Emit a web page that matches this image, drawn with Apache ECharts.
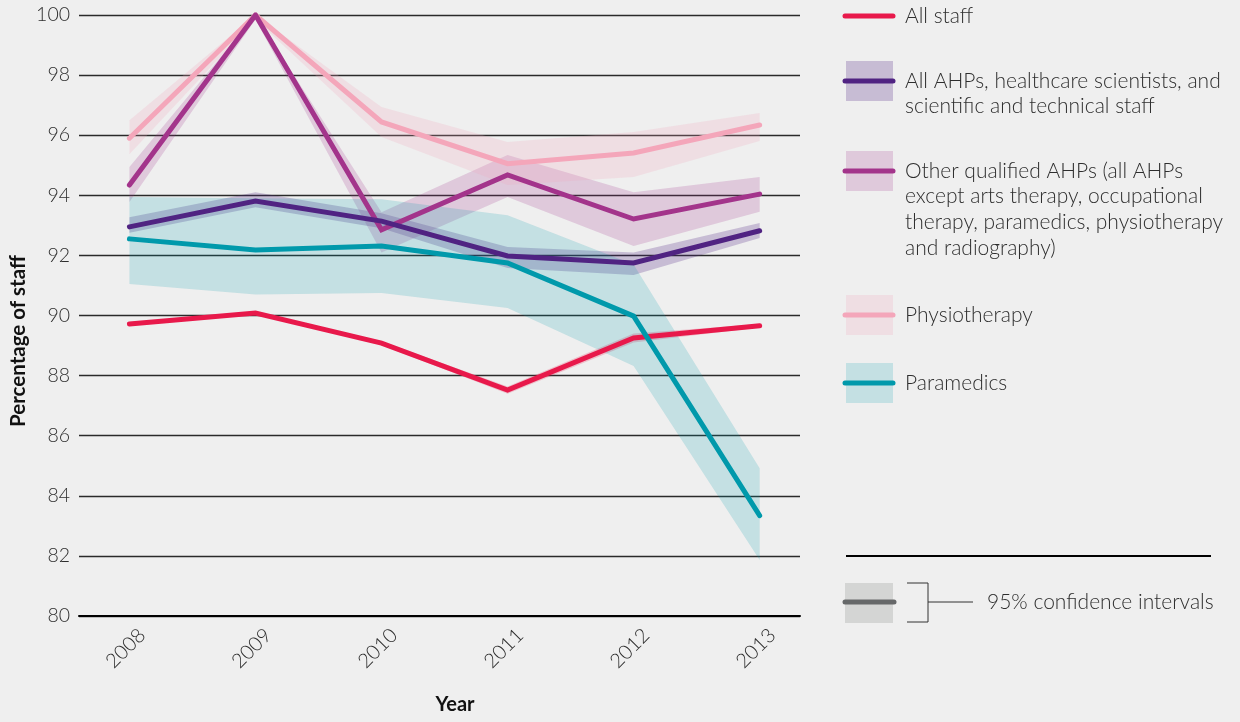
<!DOCTYPE html>
<html><head><meta charset="utf-8">
<script src="https://cdn.jsdelivr.net/npm/echarts@6/dist/echarts.min.js"></script>
<style>html,body{margin:0;padding:0;background:#efefef;}#c{width:1240px;height:722px;}</style>
</head><body><div id="c"></div>
<script>
const years = [2008, 2009, 2010, 2011, 2012, 2013];

const allStaff   = [89.72, 90.08, 89.08, 87.52, 89.25, 89.66];
const allStaffLo = [89.67, 90.03, 89.02, 87.40, 89.10, 89.60];
const allStaffHi = [89.77, 90.13, 89.14, 87.64, 89.40, 89.72];

const allAHPs   = [92.95, 93.81, 93.14, 91.98, 91.75, 92.82];
const allAHPsLo = [92.75, 93.60, 92.90, 91.58, 91.35, 92.58];
const allAHPsHi = [93.27, 94.10, 93.40, 92.28, 92.10, 93.08];

const otherAHPs   = [94.34, 100.0, 92.85, 94.68, 93.21, 94.04];
const otherAHPsLo = [93.78, 99.85, 92.10, 93.94, 92.31, 93.45];
const otherAHPsHi = [94.94, 100.0, 93.44, 95.34, 94.10, 94.61];

const physio   = [95.90, 100.0, 96.44, 95.05, 95.41, 96.34];
const physioLo = [95.37, 99.85, 95.94, 94.34, 94.61, 95.81];
const physioHi = [96.50, 100.0, 96.94, 95.77, 96.11, 96.74];

const paramedics   = [92.55, 92.18, 92.31, 91.75, 89.98, 83.34];
const paramedicsLo = [91.05, 90.70, 90.75, 90.25, 88.32, 81.86];
const paramedicsHi = [93.94, 93.90, 93.87, 93.34, 91.70, 84.92];

const seriesDefs = [
  {name:'All staff', v:allStaff, lo:allStaffLo, hi:allStaffHi, color:'#e8194b', band:'rgba(232,25,75,0.22)'},
  {name:'All AHPs, healthcare scientists, and scientific and technical staff', v:allAHPs, lo:allAHPsLo, hi:allAHPsHi, color:'#502382', band:'rgba(80,35,130,0.25)'},
  {name:'Other qualified AHPs', v:otherAHPs, lo:otherAHPsLo, hi:otherAHPsHi, color:'#a3348b', band:'rgba(160,52,138,0.2)'},
  {name:'Physiotherapy', v:physio, lo:physioLo, hi:physioHi, color:'#f4a6ba', band:'rgba(243,165,185,0.22)'},
  {name:'Paramedics', v:paramedics, lo:paramedicsLo, hi:paramedicsHi, color:'#0099ab', band:'rgba(0,153,170,0.18)'}
];

const FONT = 'Lato';
const TXT = '#2e2e2e';

function bandSeries(d) {
  return {
    type:'custom', name:d.name+' CI', silent:true, z:1,
    data: years.map((y,i)=>[y, d.lo[i], d.hi[i]]),
    encode:{x:0, y:[1,2]},
    renderItem:function(params, api){
      if (params.dataIndex !== 0) return null;
      const top = years.map((y,i)=>api.coord([y, d.hi[i]]));
      const bot = years.map((y,i)=>api.coord([y, d.lo[i]])).reverse();
      return {type:'polygon', shape:{points: top.concat(bot)}, style:{fill:d.band}};
    }
  };
}
function lineSeries(d, z) {
  return {
    type:'line', name:d.name, z:z, silent:true, symbol:'none',
    data: years.map((y,i)=>[y, d.v[i]]),
    lineStyle:{color:d.color, width:5, cap:'round', join:'miter'}
  };
}

const series = [];
seriesDefs.forEach(d=>series.push(bandSeries(d)));
[0,3,2,1,4].forEach((k,i)=>series.push(lineSeries(seriesDefs[k], 3+i)));

const lx0 = 843, lx1 = 895, tx = 905;
const LFONT = '300 21px ' + FONT;
const legendItems = [
  {d:seriesDefs[0], y:16, box:false, lines:['All staff']},
  {d:seriesDefs[1], y:81, box:true, lines:['All AHPs, healthcare scientists, and','scientific and technical staff']},
  {d:seriesDefs[2], y:171, box:true, lines:['Other qualified AHPs (all AHPs','except arts therapy, occupational','therapy, paramedics, physiotherapy','and radiography)']},
  {d:seriesDefs[3], y:315, box:true, lines:['Physiotherapy']},
  {d:seriesDefs[4], y:383, box:true, lines:['Paramedics']}
];
const graphic = [];
legendItems.forEach(it=>{
  if (it.box) graphic.push({type:'rect', shape:{x:846, y:it.y-20, width:47, height:40}, style:{fill:it.d.band}});
  graphic.push({type:'line', shape:{x1:lx0+2, y1:it.y, x2:lx1-2, y2:it.y}, style:{stroke:it.d.color, lineWidth:5, lineCap:'round'}});
  it.lines.forEach((t,j)=>graphic.push({type:'text', x:tx, y:it.y+j*25.7, style:{text:t, fill:TXT, font:LFONT, textVerticalAlign:'middle'}}));
});
graphic.push({type:'line', shape:{x1:846, y1:556, x2:1211, y2:556}, style:{stroke:'#000', lineWidth:2}});
graphic.push({type:'rect', shape:{x:845, y:583, width:48, height:40}, style:{fill:'#d4d5d4'}});
graphic.push({type:'line', shape:{x1:845, y1:602, x2:894, y2:602}, style:{stroke:'#666869', lineWidth:5, lineCap:'round'}});
graphic.push({type:'polyline', shape:{points:[[907,583],[928,583],[928,622],[907,622]]}, style:{stroke:'#333', lineWidth:1, fill:null}});
graphic.push({type:'line', shape:{x1:928, y1:602, x2:973, y2:602}, style:{stroke:'#333', lineWidth:1}});
graphic.push({type:'text', x:987, y:602, style:{text:'95% confidence intervals', fill:TXT, font:LFONT, textVerticalAlign:'middle'}});
graphic.push({type:'text', x:18, y:341, rotation:Math.PI/2, style:{text:'Percentage of staff', fill:'#111', font:'bold 20.5px '+FONT, textAlign:'center', textVerticalAlign:'middle'}});
graphic.push({type:'text', x:455, y:705, style:{text:'Year', fill:'#111', font:'bold 20px '+FONT, textAlign:'center', textVerticalAlign:'middle'}});

const chart = echarts.init(document.getElementById('c'));
chart.setOption({
  backgroundColor:'#efefef',
  animation:false,
  grid:{left:79, right:440, top:15, bottom:106},
  xAxis:{
    type:'value', min:2007.6, max:2013.32,
    axisLine:{show:true, lineStyle:{color:'#000', width:2}},
    axisTick:{show:false},
    splitLine:{show:false},
    axisLabel:{
      customValues: years.map(y=>y+0.1),
      formatter: v=>String(Math.round(v)),
      rotate:45, margin:16, color:TXT, fontFamily:FONT, fontWeight:300, fontSize:20
    }
  },
  yAxis:{
    type:'value', min:80, max:100, interval:2,
    axisLine:{show:false}, axisTick:{show:false},
    splitLine:{lineStyle:{color:'#2a2a2a', width:1.3}},
    axisLabel:{color:TXT, fontFamily:FONT, fontWeight:300, fontSize:19.5, margin:9}
  },
  series:series,
  graphic:graphic
});
</script>
</body></html>
